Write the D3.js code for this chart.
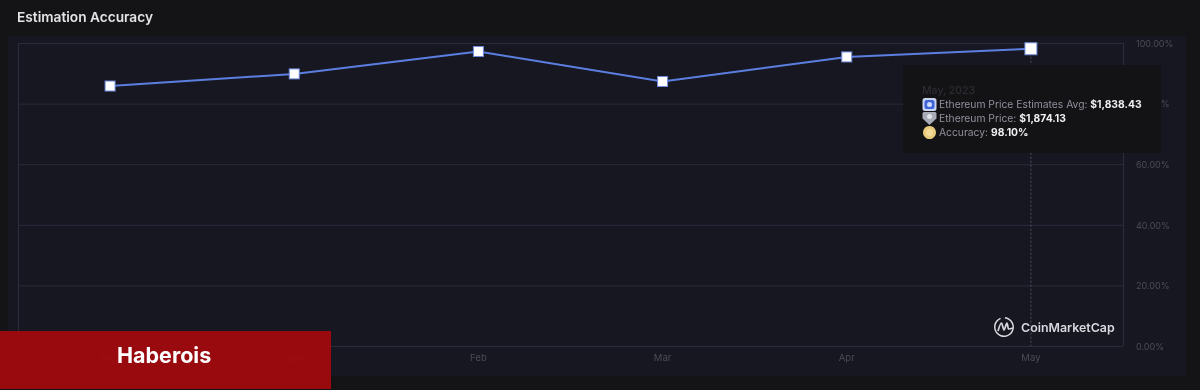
<!DOCTYPE html>
<html>
<head>
<meta charset="utf-8">
<script src="https://cdn.jsdelivr.net/npm/d3@7"></script>
<style>
  html, body { margin: 0; padding: 0; background: #141416; }
  svg { display: block; font-family: Inter, "Noto Sans", sans-serif; filter: blur(0.45px); }
</style>
</head>
<body>
<div id="chart"></div>
<script>
// Values
const months = ['Dec', 'Jan', 'Feb', 'Mar', 'Apr', 'May'];
const accuracy = [85.8, 89.8, 97.2, 87.3, 95.4, 98.1];
const yTicks = [0, 20, 40, 60, 80, 100];
const tooltipRows = [
  { label: 'Ethereum Price Estimates Avg: ', value: '$1,838.43' },
  { label: 'Ethereum Price: ', value: '$1,874.13' },
  { label: 'Accuracy: ', value: '98.10%' }
];

const WIDTH = 1200;
const HEIGHT = 390;
const MARGIN = { left: 18, right: 77, top: 43, bottom: 44 };
const LINE_COLOR = '#5b7fe0';
const GRID_COLOR = '#2a2b3c';
const MUTED = '#4b4c58';

const svg = d3.select('#chart').append('svg')
  .attr('width', WIDTH)
  .attr('height', HEIGHT);

svg.append('rect')
  .attr('width', WIDTH).attr('height', HEIGHT)
  .attr('fill', '#141416');

// chart panel
svg.append('rect')
  .attr('x', 8).attr('y', 36)
  .attr('width', 1178).attr('height', 340)
  .attr('fill', '#171721');

svg.append('text')
  .attr('x', 17).attr('y', 22)
  .attr('fill', '#e4e4e6')
  .attr('font-size', 13.7)
  .attr('font-weight', 600)
  .text('Estimation Accuracy');

const x = d3.scaleBand()
  .domain(months)
  .range([MARGIN.left, WIDTH - MARGIN.right]);

const y = d3.scaleLinear()
  .domain([0, 100])
  .range([HEIGHT - MARGIN.bottom, MARGIN.top]);

// grid
svg.append('g').selectAll('line')
  .data(yTicks)
  .join('line')
  .attr('x1', MARGIN.left).attr('x2', WIDTH - MARGIN.right)
  .attr('y1', d => y(d) + 0.5).attr('y2', d => y(d) + 0.5)
  .attr('stroke', GRID_COLOR);

svg.append('g').selectAll('line')
  .data([MARGIN.left, WIDTH - MARGIN.right])
  .join('line')
  .attr('x1', d => d + 0.5).attr('x2', d => d + 0.5)
  .attr('y1', MARGIN.top).attr('y2', HEIGHT - MARGIN.bottom)
  .attr('stroke', GRID_COLOR);

// y axis, right side
const yAxis = svg.append('g')
  .attr('transform', `translate(${WIDTH - MARGIN.right},0.5)`)
  .call(d3.axisRight(y).tickValues(yTicks).tickSize(0).tickPadding(13).tickFormat(d => d.toFixed(2) + '%'));
yAxis.select('.domain').remove();
yAxis.selectAll('text')
  .attr('fill', MUTED)
  .attr('font-size', 9)
  .attr('font-family', 'Inter');

// x axis
const xAxis = svg.append('g')
  .attr('transform', `translate(0,${HEIGHT - MARGIN.bottom})`)
  .call(d3.axisBottom(x).tickSize(0).tickPadding(8));
xAxis.select('.domain').remove();
xAxis.selectAll('text')
  .attr('fill', MUTED)
  .attr('font-size', 9.5)
  .attr('font-family', 'Inter');

// crosshair on the hovered month
const last = months[months.length - 1];
const hoverX = x(last) + x.bandwidth() / 2;
svg.append('line')
  .attr('x1', hoverX).attr('x2', hoverX)
  .attr('y1', y(accuracy[5])).attr('y2', HEIGHT - MARGIN.bottom)
  .attr('stroke', '#50515f')
  .attr('stroke-dasharray', '2 2');

// line + markers
const line = d3.line()
  .x(d => x(d.month) + x.bandwidth() / 2)
  .y(d => y(d.value));
const points = months.map((m, i) => ({ month: m, value: accuracy[i] }));

svg.append('path')
  .datum(points)
  .attr('fill', 'none')
  .attr('stroke', LINE_COLOR)
  .attr('stroke-width', 2)
  .attr('d', line);

const markerSize = d => d.month === last ? 12 : 10;
svg.append('g').selectAll('rect')
  .data(points)
  .join('rect')
  .attr('x', d => x(d.month) + x.bandwidth() / 2 - markerSize(d) / 2)
  .attr('y', d => y(d.value) - markerSize(d) / 2)
  .attr('width', markerSize)
  .attr('height', markerSize)
  .attr('fill', '#fff')
  .attr('stroke', '#6f8bdc')
  .attr('stroke-width', 1);

// watermark logo
const logo = svg.append('g').attr('transform', 'translate(1004,327)');
logo.append('path')
  .attr('d', d3.arc()({ innerRadius: 8.5, outerRadius: 10, startAngle: 0.1, endAngle: 5.9 }))
  .attr('fill', '#d8d8de');
logo.append('path')
  .attr('d', d3.line().curve(d3.curveMonotoneX)([[-6, 4], [-2.5, -4], [0, 3], [3, -4], [4.5, 2], [9, 1]]))
  .attr('fill', 'none')
  .attr('stroke', '#d8d8de')
  .attr('stroke-width', 1.7);
svg.append('text')
  .attr('x', 1021).attr('y', 332)
  .attr('fill', '#d8d8de')
  .attr('font-size', 12.4)
  .attr('font-weight', 600)
  .text('CoinMarketCap');

// tooltip
const tip = svg.append('g').attr('transform', 'translate(903,65)');
tip.append('rect')
  .attr('x', 0).attr('y', 0)
  .attr('width', 258).attr('height', 88)
  .attr('rx', 3)
  .attr('fill', '#131315');
tip.append('text')
  .attr('x', 19).attr('y', 29)
  .attr('fill', '#2c2d33')
  .attr('font-size', 10.5)
  .attr('font-weight', 500)
  .text('May, 2023');

const rowColors = [
  { outer: '#c9d3f2', inner: '#3f63d8', dot: '#cfdcff' },
  { outer: '#a9abb6', inner: '#e3e4ea', dot: '#e3e4ea' },
  { outer: '#e8cb7d', inner: '#f4dc98', dot: '#f4dc98' }
];
const rows = tip.selectAll('g.row')
  .data(tooltipRows)
  .join('g')
  .attr('class', 'row')
  .attr('transform', (d, i) => `translate(0,${33 + i * 14})`);

// icons: rounded square, shield, circle
rows.append('path')
  .attr('d', (d, i) => {
    if (i === 0) return 'M22,0 h9 a2.5,2.5 0 0 1 2.5,2.5 v8 a2.5,2.5 0 0 1 -2.5,2.5 h-9 a2.5,2.5 0 0 1 -2.5,-2.5 v-8 a2.5,2.5 0 0 1 2.5,-2.5 z';
    if (i === 1) return 'M21,0 h11 a1.5,1.5 0 0 1 1.5,1.5 v5 l-7,6.5 l-7,-6.5 v-5 a1.5,1.5 0 0 1 1.5,-1.5 z';
    return 'M26.5,0 a6.5,6.5 0 1 1 -0.01,0 z';
  })
  .attr('fill', (d, i) => rowColors[i].outer);
rows.filter((d, i) => i === 0).append('rect')
  .attr('x', 21.5).attr('y', 2).attr('width', 10).attr('height', 9).attr('rx', 2)
  .attr('fill', rowColors[0].inner);
rows.append('circle')
  .attr('cx', 26.5).attr('cy', (d, i) => i === 1 ? 4.5 : 6.5)
  .attr('r', (d, i) => i === 2 ? 3.5 : 2.5)
  .attr('fill', (d, i) => rowColors[i].dot);

const rowText = rows.append('text')
  .attr('x', 36).attr('y', 10)
  .attr('font-size', 10.3);
rowText.append('tspan')
  .attr('fill', '#8f909b')
  .text(d => d.label);
rowText.append('tspan')
  .attr('fill', '#f0f0f2')
  .attr('font-weight', 700)
  .text(d => d.value);

// brand banner, lets the axis labels show through a little
svg.append('rect')
  .attr('x', 0).attr('y', 331)
  .attr('width', 331).attr('height', 58)
  .attr('fill', '#a20a0d')
  .attr('fill-opacity', 0.93);
svg.append('text')
  .attr('x', 117).attr('y', 363)
  .attr('fill', '#fff')
  .attr('font-size', 21.5)
  .attr('font-weight', 700)
  .text('Haberois');
</script>
</body>
</html>
